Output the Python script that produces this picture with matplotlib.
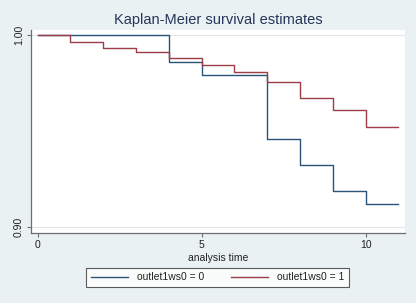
import matplotlib
matplotlib.use('Agg')
import matplotlib.pyplot as plt

plt.rcParams['font.family'] = ['Liberation Sans', 'DejaVu Sans']

# step times and survival estimates
times = [0, 1, 2, 3, 4, 5, 6, 7, 8, 9, 10, 11]
surv_0 = [1.0, 1.0, 1.0, 1.0, 0.9861, 0.9794, 0.9794, 0.9459, 0.9324, 0.9189, 0.9121, 0.9121]
surv_1 = [1.0, 0.9962, 0.9934, 0.9910, 0.9879, 0.9842, 0.9806, 0.9754, 0.9674, 0.9612, 0.9520, 0.9520]
labels = ['outlet1ws0 = 0', 'outlet1ws0 = 1']
colors = ['#2b5278', '#9a3d47']

bg = '#eaf1f3'
fig = plt.figure(figsize=(4.16, 3.03), dpi=100, facecolor=bg)
ax = fig.add_axes([31 / 416, 1 - 233 / 303, 374 / 416, 203 / 303])
ax.set_facecolor('white')

# gridlines at the y ticks
for yv in [0.90, 1.00]:
    ax.axhline(yv, color='#e2e6e8', lw=0.8, zorder=0)

ax.step(times, surv_0, where='post', color=colors[0], lw=1.0, label=labels[0])
ax.step(times, surv_1, where='post', color=colors[1], lw=1.0, label=labels[1])

ax.set_xlim(-0.204, 11.2)
ax.set_ylim(0.897, 1.0026)
ax.set_xticks([0, 5, 10])
ax.set_yticks([0.90, 1.00])
ax.set_yticklabels(['0.90', '1.00'], rotation=90, va='center')

for s in ['top', 'right']:
    ax.spines[s].set_visible(False)
for s in ['left', 'bottom']:
    ax.spines[s].set_color('#6e6e6e')
    ax.spines[s].set_linewidth(0.9)
ax.tick_params(axis='both', direction='out', length=3, width=0.8, color='#6e6e6e',
               labelsize=7.5, labelcolor='#222222', pad=2)

ax.set_xlabel('analysis time', fontsize=7.5, color='#222222', labelpad=2)
fig.text(218 / 416, 1 - 20 / 303, 'Kaplan-Meier survival estimates', ha='center', va='center',
         fontsize=10.5, color='#25365a')

leg = fig.legend(loc='center', bbox_to_anchor=(217.5 / 416, 1 - 277.5 / 303), ncol=2,
                 fontsize=7.5, frameon=True, fancybox=False, handlelength=3.6,
                 columnspacing=2.6, handletextpad=0.8, borderpad=0.45)
leg.get_frame().set_edgecolor('#333333')
leg.get_frame().set_linewidth(0.8)
for t in leg.get_texts():
    t.set_color('#222222')

fig.savefig('out.png', dpi=100, facecolor=bg)
